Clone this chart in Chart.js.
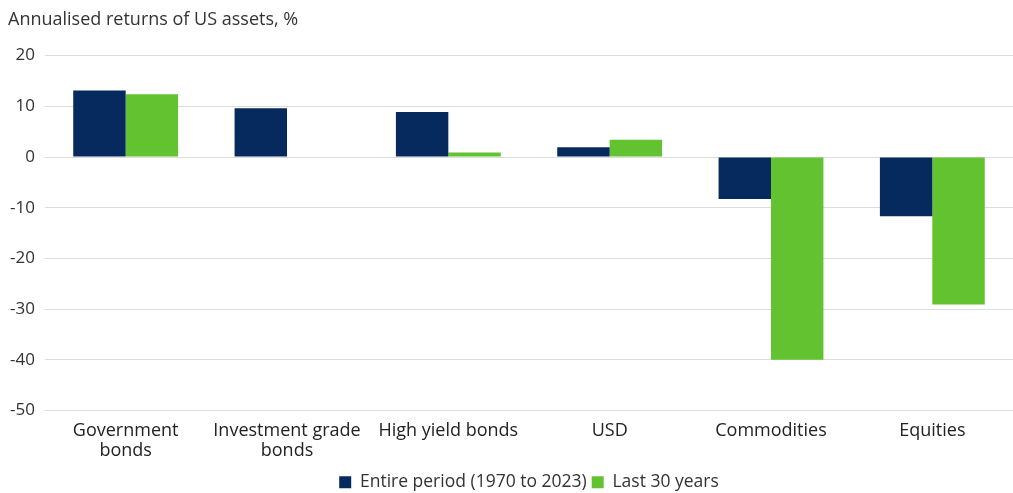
<!DOCTYPE html>
<html>
<head>
<meta charset="utf-8">
<script src="https://cdn.jsdelivr.net/npm/chart.js@4/dist/chart.umd.min.js"></script>
<style>
  html,body{margin:0;padding:0;background:#fff}
  #wrap{width:1013px;height:493px;position:relative}
</style>
</head>
<body>
<div id="wrap"><canvas id="c"></canvas></div>
<script>
const CATEGORIES = [['Government','bonds'],['Investment grade','bonds'],'High yield bonds','USD','Commodities','Equities'];
const ENTIRE_PERIOD = [13.1, 9.6, 8.9, 1.9, -8.3, -11.7];
const LAST_30_YEARS = [12.4, 0, 0.9, 3.4, -40.0, -29.1];
const SERIES_NAMES = ['Entire period (1970 to 2023)','Last 30 years'];
const Y_MIN = -50, Y_MAX = 20, Y_STEP = 10;

const NAVY = '#062a5e', GREEN = '#62c22f';
const FONT = "'Open Sans', 'Noto Sans', sans-serif";

new Chart(document.getElementById('c'),{type:'bar',
  data:{labels:CATEGORIES,
    datasets:[
      {label:SERIES_NAMES[0],data:ENTIRE_PERIOD,backgroundColor:NAVY,borderWidth:0},
      {label:SERIES_NAMES[1],data:LAST_30_YEARS,backgroundColor:GREEN,borderWidth:0},
    ]},
  options:{responsive:true,maintainAspectRatio:false,animation:false,
    layout:{padding:{top:6,left:8,right:0,bottom:-8}},
    datasets:{bar:{categoryPercentage:0.65,barPercentage:1}},
    plugins:{
      title:{display:true,text:'Annualised returns of US assets, %',align:'start',color:'#333',
        font:{family:FONT,size:18,weight:'normal'},padding:{top:3,bottom:25}},
      legend:{position:'bottom',fullSize:false,labels:{color:'#333',font:{family:FONT,size:17.5},boxWidth:12,boxHeight:12,padding:5}},
      tooltip:{enabled:false}
    },
    scales:{
      x:{grid:{display:false},border:{display:false},
        afterFit:s=>{s.height=58;},
        ticks:{color:'#222',font:{family:FONT,size:18,lineHeight:1.12},padding:2,maxRotation:0,autoSkip:false}},
      y:{min:Y_MIN,max:Y_MAX,border:{display:false},
        afterFit:s=>{s.width=37;},
        grid:{color:'#dcdcdc',drawTicks:false},
        ticks:{stepSize:Y_STEP,color:'#333',font:{family:FONT,size:17},padding:10}}
    }
  }
});
</script>
</body>
</html>
